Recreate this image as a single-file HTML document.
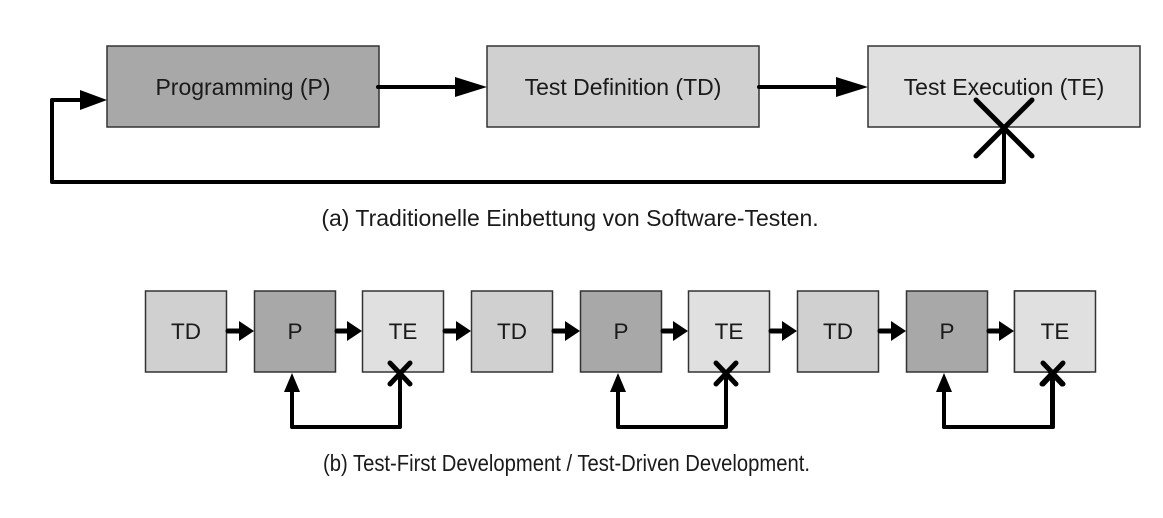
<!DOCTYPE html>
<html><head><meta charset="utf-8"><style>
html,body{margin:0;padding:0;background:#fff;}
svg{display:block;}
text{font-family:"Liberation Sans",Arial,sans-serif;fill:#1a1a1a;}
</style></head><body>
<svg width="1163" height="518" viewBox="0 0 1163 518" xmlns="http://www.w3.org/2000/svg">
<defs>
<g id="grp">
  <rect x="145.5" y="291" width="81" height="81" fill="#d0d0d0" stroke="#333" stroke-width="1.5"/>
  <rect x="254.5" y="291" width="81" height="81" fill="#a8a8a8" stroke="#333" stroke-width="1.5"/>
  <rect x="362.5" y="291" width="81" height="81" fill="#e0e0e0" stroke="#333" stroke-width="1.5"/>
  <text x="186" y="339" font-size="22.5" text-anchor="middle">TD</text>
  <text x="295" y="339" font-size="22.5" text-anchor="middle">P</text>
  <text x="403" y="339" font-size="22.5" text-anchor="middle">TE</text>
  <line x1="228" y1="331" x2="242" y2="331" stroke="#000" stroke-width="5" stroke-linecap="round"/>
  <polygon points="239,321 254,331 239,341" fill="#000"/>
  <line x1="337" y1="331" x2="350" y2="331" stroke="#000" stroke-width="5" stroke-linecap="round"/>
  <polygon points="347,321 362,331 347,341" fill="#000"/>
  <line x1="445" y1="331" x2="459" y2="331" stroke="#000" stroke-width="5" stroke-linecap="round"/>
  <polygon points="456,321 471,331 456,341" fill="#000"/>
  <polyline points="292,388 292,427 400,427 400,374" fill="none" stroke="#000" stroke-width="4" stroke-linejoin="round"/>
  <polygon points="284,392 292,373 300,392" fill="#000"/>
  <line x1="390" y1="363" x2="410" y2="384" stroke="#000" stroke-width="5" stroke-linecap="round"/>
  <line x1="410" y1="363" x2="390" y2="384" stroke="#000" stroke-width="5" stroke-linecap="round"/>
</g>
</defs>
<rect x="107" y="46" width="272" height="81" fill="#a8a8a8" stroke="#333" stroke-width="1.5"/>
<rect x="487" y="46" width="272" height="81" fill="#d0d0d0" stroke="#333" stroke-width="1.5"/>
<rect x="868" y="46" width="272" height="81" fill="#e0e0e0" stroke="#333" stroke-width="1.5"/>
<text x="243" y="95" font-size="23" text-anchor="middle">Programming (P)</text>
<text x="623" y="95" font-size="23" text-anchor="middle">Test Definition (TD)</text>
<text x="1004" y="95" font-size="23" text-anchor="middle">Test Execution (TE)</text>
<line x1="378" y1="87" x2="458" y2="87" stroke="#000" stroke-width="4" stroke-linecap="round"/>
<polygon points="455,77 487,87 455,97" fill="#000"/>
<line x1="759" y1="87" x2="840" y2="87" stroke="#000" stroke-width="4" stroke-linecap="round"/>
<polygon points="836,77 868,87 836,97" fill="#000"/>
<polyline points="82,100 52,100 52,182 1004,182 1004,128" fill="none" stroke="#000" stroke-width="4" stroke-linejoin="round"/>
<polygon points="80,90 107,100 80,110" fill="#000"/>
<line x1="976" y1="100" x2="1032" y2="156" stroke="#000" stroke-width="5" stroke-linecap="round"/>
<line x1="1032" y1="100" x2="976" y2="156" stroke="#000" stroke-width="5" stroke-linecap="round"/>
<text x="570" y="226" font-size="23" text-anchor="middle">(a) Traditionelle Einbettung von Software-Testen.</text>
<use href="#grp"/>
<use href="#grp" x="326"/>
<use href="#grp" x="652"/>
<rect x="1090" y="280" width="73" height="160" fill="#fff"/>
<rect x="1014.5" y="291" width="81" height="81" fill="#e0e0e0" stroke="#333" stroke-width="1.5"/>
<text x="1055" y="339" font-size="22.5" text-anchor="middle">TE</text>
<polyline points="944,388 944,427 1053,427 1053,374" fill="none" stroke="#000" stroke-width="4" stroke-linejoin="round"/>
<line x1="1043" y1="363" x2="1063" y2="384" stroke="#000" stroke-width="5" stroke-linecap="round"/>
<line x1="1063" y1="363" x2="1043" y2="384" stroke="#000" stroke-width="5" stroke-linecap="round"/>
<text x="323" y="471" font-size="23" textLength="487" lengthAdjust="spacingAndGlyphs">(b) Test-First Development / Test-Driven Development.</text>
</svg>
</body></html>
